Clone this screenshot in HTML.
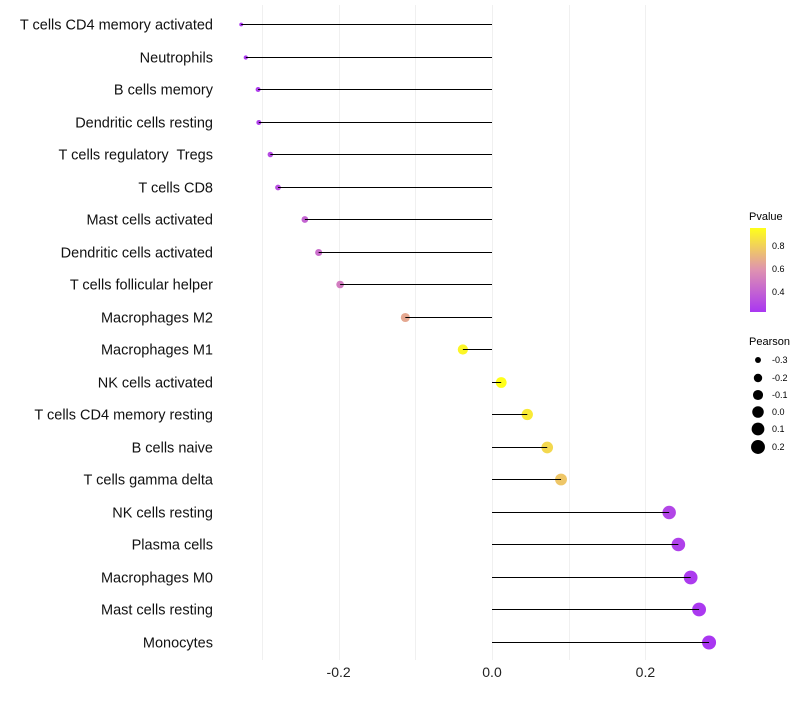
<!DOCTYPE html>
<html><head><meta charset="utf-8"><style>
body{margin:0;background:#fff;font-family:"Liberation Sans",sans-serif;}
text{white-space:pre;}
</style></head><body>
<svg id="chart" width="800" height="700" xmlns="http://www.w3.org/2000/svg" font-family="Liberation Sans, sans-serif">
<defs><linearGradient id="pg" x1="0" y1="1" x2="0" y2="0">
<stop offset="0" stop-color="#A020F0"/><stop offset="0.5" stop-color="#DB86A8"/><stop offset="1" stop-color="#FFFF00"/></linearGradient></defs>
<g id="grid"></g><g id="points"></g><g id="marks"></g><g id="labels"></g>
<g>
<text x="749" y="220" font-size="11">Pvalue</text>
<rect x="750" y="228" width="16" height="84" fill="url(#pg)" opacity="0.9"/>
<text x="772" y="249" font-size="9">0.8</text>
<text x="772" y="272" font-size="9">0.6</text>
<text x="772" y="295" font-size="9">0.4</text>
</g>
<g id="sizeLegend">
<text x="749" y="345" font-size="11">Pearson</text>
</g>
</svg>
<script>
const categories=["T cells CD4 memory activated","Neutrophils","B cells memory","Dendritic cells resting","T cells regulatory  Tregs","T cells CD8","Mast cells activated","Dendritic cells activated","T cells follicular helper","Macrophages M2","Macrophages M1","NK cells activated","T cells CD4 memory resting","B cells naive","T cells gamma delta","NK cells resting","Plasma cells","Macrophages M0","Mast cells resting","Monocytes"];
const pearson=[-0.327,-0.321,-0.305,-0.304,-0.289,-0.279,-0.244,-0.226,-0.198,-0.113,-0.038,0.012,0.046,0.072,0.090,0.231,0.243,0.259,0.270,0.283];
const pvalue=[0.22,0.23,0.25,0.26,0.30,0.32,0.40,0.44,0.50,0.66,0.92,0.95,0.88,0.82,0.76,0.28,0.26,0.24,0.23,0.22];
const xTicks=[-0.2,0.0,0.2];
const xGrid=[-0.3,-0.2,-0.1,0,0.1,0.2];
const sizeLegendVals=[-0.3,-0.2,-0.1,0.0,0.1,0.2];
const NS="http://www.w3.org/2000/svg";
const x=v=>492+v*767;
const y=i=>Math.round(24+i*32.5)+0.5;
const rad=v=>{const t=Math.max(0,(v+0.33)/0.613);return 1.7+5.3*Math.pow(t,0.6);};
function col(p){const t=Math.max(0,Math.min(1,(p-0.22)/0.73));
 const a=[160,32,240],m=[219,134,168],b=[255,255,0];let c;
 if(t<0.5){const s=t/0.5;c=a.map((v,k)=>Math.round(v+(m[k]-v)*s));}else{const s=(t-0.5)/0.5;c=m.map((v,k)=>Math.round(v+(b[k]-v)*s));}
 return `rgb(${c})`;}
function mk(tag,at,parent){const e=document.createElementNS(NS,tag);for(const k in at)e.setAttribute(k,at[k]);document.getElementById(parent).appendChild(e);return e;}
xGrid.forEach(v=>{const l=mk('line',{x1:Math.round(x(v))+0.5,x2:Math.round(x(v))+0.5,y1:5,y2:660,stroke:'#f0f0f0','stroke-width':1},'grid');

});
xTicks.forEach(v=>{const t=mk('text',{x:x(v),y:677,'font-size':14,'text-anchor':'middle',fill:'#222'},'labels');t.textContent=v.toFixed(1);

});
categories.forEach((c,i)=>{
 const p=mk('circle',{cx:x(pearson[i]),cy:y(i),r:rad(pearson[i]),fill:col(pvalue[i]),'fill-opacity':0.9},'points');
 
 
 const l=mk('line',{x1:x(0),x2:x(pearson[i]),y1:y(i),y2:y(i),stroke:'#000','stroke-width':1},'marks');
 
 
 const t=mk('text',{x:213,y:y(i)+5,'font-size':14.5,'text-anchor':'end',fill:'#111'},'labels');t.textContent=c;
 
 
});
const ly=[360,378,395,412,429,447];
sizeLegendVals.forEach((v,i)=>{
 const c=mk('circle',{cx:758,cy:ly[i],r:rad(v)+0.4,fill:'#000'},'sizeLegend');
 
 
 const t=mk('text',{x:772,y:ly[i]+3,'font-size':9},'sizeLegend');t.textContent=v.toFixed(1);
 
 
});
</script>
</body></html>
